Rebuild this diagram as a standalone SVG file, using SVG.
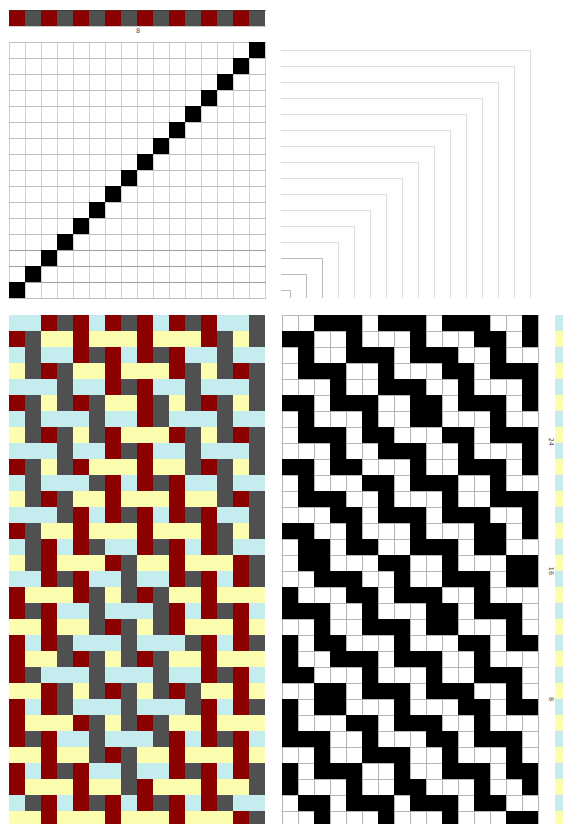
<svg xmlns="http://www.w3.org/2000/svg" xmlns:xlink="http://www.w3.org/1999/xlink" width="563" height="824" viewBox="0 0 563 824">
<style>
text{font-family:"DejaVu Sans","Liberation Sans",sans-serif;font-size:6.500px;fill:#444;text-anchor:middle;dominant-baseline:central}
.grid{fill:none;stroke:#b4b4b4;stroke-width:1}
.gv{fill:none;stroke:#cfcfcf;stroke-width:1}
.gh{fill:none;stroke:#c0c0c0;stroke-width:1}
.gd{fill:none;stroke:#a0a0a0;stroke-width:1}
.tie{fill:none;stroke:#dcdcdc;stroke-width:1}
.tied{fill:none;stroke:#bcbcbc;stroke-width:1}
.cells{fill:none;stroke-width:1}
</style>
<defs>
<pattern id="warpc" patternUnits="userSpaceOnUse" width="2" height="1"><rect width="1" height="1" fill="#8b0000"/><rect x="1" width="1" height="1" fill="#505050"/></pattern>
<pattern id="weftc" patternUnits="userSpaceOnUse" width="1" height="2"><rect width="1" height="1" fill="#c5ecef"/><rect y="1" width="1" height="1" fill="#fdfdb0"/></pattern>
<path id="warp" d="M2 .5h3M6 .5h3M10 .5h3M15 .5h1
M0 1.5h2M4 1.5h1M8 1.5h1M12 1.5h2M15 1.5h1
M1 2.5h1M4 2.5h3M8 2.5h3M13 2.5h1
M1 3.5h3M6 3.5h1M10 3.5h2M13 3.5h3
M3 4.5h1M6 4.5h3M11 4.5h1M15 4.5h1
M0 5.5h2M3 5.5h3M8 5.5h2M11 5.5h3M15 5.5h1
M1 6.5h1M5 6.5h1M8 6.5h2M13 6.5h1
M1 7.5h3M5 7.5h2M10 7.5h2M13 7.5h3
M3 8.5h1M6 8.5h3M11 8.5h1M15 8.5h1
M0 9.5h2M3 9.5h2M8 9.5h1M11 9.5h3M15 9.5h1
M1 10.5h1M5 10.5h2M8 10.5h3M13 10.5h1
M1 11.5h3M6 11.5h1M10 11.5h1M13 11.5h3
M3 12.5h2M6 12.5h3M10 12.5h3M15 12.5h1
M0 13.5h2M4 13.5h1M8 13.5h1M12 13.5h2M15 13.5h1
M1 14.5h2M4 14.5h2M8 14.5h3M12 14.5h2
M1 15.5h2M6 15.5h2M10 15.5h1M14 15.5h2
M2 16.5h3M7 16.5h1M10 16.5h3M14 16.5h2
M0 17.5h1M4 17.5h2M7 17.5h3M12 17.5h1
M0 18.5h3M5 18.5h1M9 18.5h2M12 18.5h3
M2 19.5h1M5 19.5h3M9 19.5h2M14 19.5h1
M0 20.5h1M2 20.5h2M7 20.5h1M11 20.5h2M14 20.5h2
M0 21.5h1M3 21.5h3M7 21.5h3M12 21.5h1
M0 22.5h2M5 22.5h1M9 22.5h1M12 22.5h3
M2 23.5h2M5 23.5h3M9 23.5h3M14 23.5h1
M0 24.5h1M2 24.5h2M7 24.5h1M11 24.5h2M14 24.5h2
M0 25.5h1M4 25.5h2M7 25.5h3M12 25.5h1
M0 26.5h3M5 26.5h1M9 26.5h2M12 26.5h3
M2 27.5h1M5 27.5h3M10 27.5h1M14 27.5h1
M0 28.5h1M2 28.5h3M7 28.5h1M10 28.5h3M14 28.5h2
M0 29.5h1M4 29.5h1M7 29.5h2M12 29.5h1M15 29.5h1
M1 30.5h2M4 30.5h3M8 30.5h3M12 30.5h2
M2 31.5h1M6 31.5h1M10 31.5h1M14 31.5h2"/>
</defs>
<rect width="563" height="824" fill="#fff"/>

<g id="warp-colours">
<rect width="16" height="1" transform="translate(9 10) scale(16)" fill="url(#warpc)"/>
<path d="M9 10.500H266" stroke="#333" stroke-width="1" fill="none" opacity=".6"/>
<path d="M9 26.500H266" stroke="#ccc" stroke-width="1" fill="none"/>
<text x="138" y="31">8</text>
</g>

<g id="threading">
<path class="gv" d="M9.500 42V299M25.500 42V299M41.500 42V299M57.500 42V299M73.500 42V299M89.500 42V299M105.500 42V299M121.500 42V299M137.500 42V299M153.500 42V299M169.500 42V299M185.500 42V299M201.500 42V299M217.500 42V299M233.500 42V299M249.500 42V299M265.500 42V299"/>
<path class="gh" d="M9 42.500H266M9 58.500H266M9 74.500H266M9 90.500H266M9 106.500H266M9 122.500H266M9 138.500H266M9 154.500H266M9 170.500H266M9 186.500H266M9 202.500H266M9 218.500H266M9 234.500H266M9 298.500H266"/>
<path class="gd" d="M9 250.500H266M9 266.500H266M9 282.500H266"/>
<path transform="translate(9 42) scale(16)" class="cells" stroke="#000" d="M0 15.500h1M1 14.500h1M2 13.500h1M3 12.500h1M4 11.500h1M5 10.500h1M6 9.500h1M7 8.500h1M8 7.500h1M9 6.500h1M10 5.500h1M11 4.500h1M12 3.500h1M13 2.500h1M14 1.500h1M15 .5h1"/>
</g>

<g id="tieup">
<path class="tie" d="M281 50.500H530.500V298M281 66.500H514.500V298M281 82.500H498.500V298M281 98.500H482.500V298M281 114.500H466.500V298M281 130.500H450.500V298M281 146.500H434.500V298M281 162.500H418.500V298M281 178.500H402.500V298M281 194.500H386.500V298M281 210.500H370.500V298M281 226.500H354.500V298M281 242.500H338.500V298"/>
<path class="tied" d="M281 258.500H322.500V298M281 274.500H306.500V298M281 290.500H290.500V298"/>
</g>

<g id="drawdown-colour">
<rect width="16" height="32" transform="translate(9 315) scale(16)" fill="url(#weftc)"/>
<use xlink:href="#warp" href="#warp" transform="translate(9 315) scale(16)" class="cells" stroke="url(#warpc)"/>
</g>

<g id="drawdown-plain">
<path class="grid" d="M282.500 315V824M298.500 315V824M314.500 315V824M330.500 315V824M346.500 315V824M362.500 315V824M378.500 315V824M394.500 315V824M410.500 315V824M426.500 315V824M442.500 315V824M458.500 315V824M474.500 315V824M490.500 315V824M506.500 315V824M522.500 315V824M538.500 315V824"/>
<path class="grid" d="M282 315.500H539M282 331.500H539M282 347.500H539M282 363.500H539M282 379.500H539M282 395.500H539M282 411.500H539M282 427.500H539M282 443.500H539M282 459.500H539M282 475.500H539M282 491.500H539M282 507.500H539M282 523.500H539M282 539.500H539M282 555.500H539M282 571.500H539M282 587.500H539M282 603.500H539M282 619.500H539M282 635.500H539M282 651.500H539M282 667.500H539M282 683.500H539M282 699.500H539M282 715.500H539M282 731.500H539M282 747.500H539M282 763.500H539M282 779.500H539M282 795.500H539M282 811.500H539"/>
<use xlink:href="#warp" href="#warp" transform="translate(282 315) scale(16)" class="cells" stroke="#000"/>
</g>

<g id="weft-colours">
<rect width="1" height="32" transform="translate(555 315) scale(16)" fill="url(#weftc)"/>
<text transform="translate(551 442) rotate(90)">24</text>
<text transform="translate(551 571) rotate(90)">16</text>
<text transform="translate(551 699) rotate(90)">8</text>
</g>
</svg>
